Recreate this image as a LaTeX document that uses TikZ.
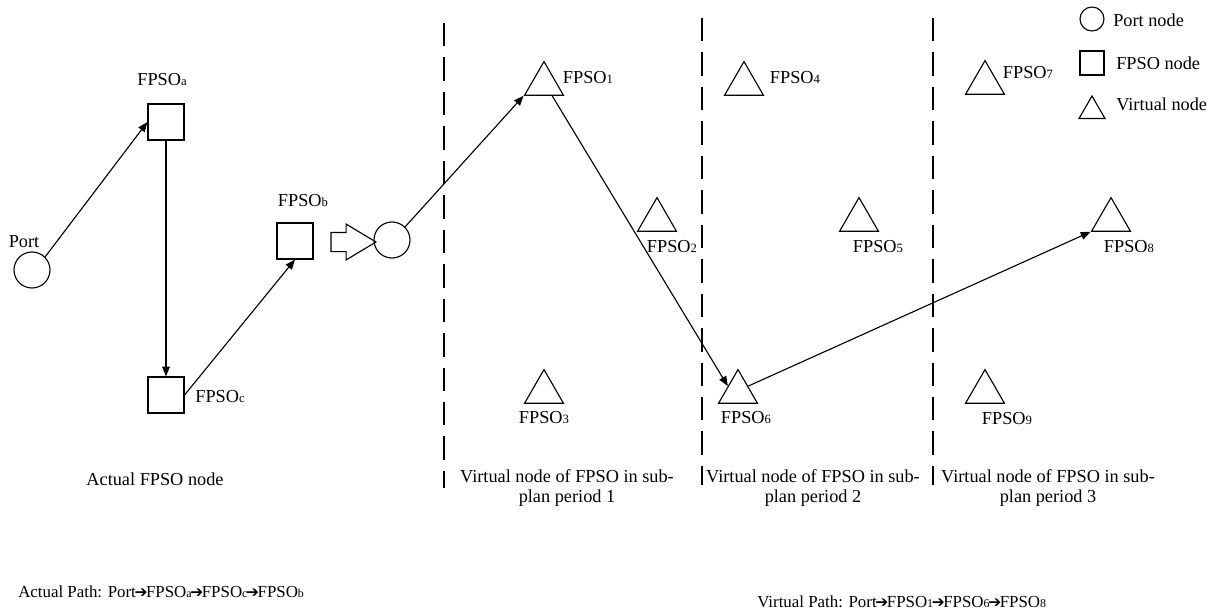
\documentclass[tikz,border=0pt]{standalone}
\usepackage{fontspec}
\setmainfont{Liberation Serif}
\newfontfamily\symfont{DejaVu Sans}
\usetikzlibrary{arrows.meta,positioning,shapes.geometric,shapes.arrows,calc}
\newcommand{\sbs}[1]{{\fontsize{9}{10}\selectfont #1}}
\newcommand{\psbs}[1]{{\fontsize{8.5}{10}\selectfont #1}}
\newcommand{\pto}{\kern-1pt{\symfont\fontsize{11}{12}\selectfont ➔}\kern-1pt}
\tikzset{
  pnode/.style={circle,draw,line width=0.8pt,minimum size=0.9cm,inner sep=0pt},
  fnode/.style={rectangle,draw,line width=0.8pt,minimum size=0.9cm,inner sep=0pt},
  vnode/.style={regular polygon,regular polygon sides=3,draw,line width=0.8pt,
                minimum size=1.12cm,inner sep=0pt},
  lbl/.style={font=\fontsize{13}{14.5}\selectfont,inner sep=0pt,align=center},
  plbl/.style={font=\fontsize{12}{14}\selectfont,inner sep=0pt,anchor=west},
  arr/.style={-{Triangle[length=7pt,width=5.5pt]},line width=0.8pt},
  divline/.style={line width=1.2pt,dash pattern=on 16.7pt off 7.8pt},
}
\begin{document}
\begin{tikzpicture}[x=0.025cm,y=-0.025cm]
  \useasboundingbox (0,0) rectangle (1219,612);

  % sub-plan period borders
  \coordinate (d1t) at (444,23);  \coordinate (d1b) at (444,488);
  \coordinate (d2t) at (702,18);  \coordinate (d2b) at (702,485);
  \coordinate (d3t) at (933,18);  \coordinate (d3b) at (933,485);
  \draw[divline] (d1t) -- (d1b);
  \draw[divline] (d2t) -- (d2b);
  \draw[divline] (d3t) -- (d3b);

  % actual network
  \node[pnode] (port) at (32,270) {};
  \node[fnode] (fa) at (166,122) {};
  \node[fnode] (fc) at (166,395) {};
  \node[fnode] (fb) at (295,241) {};
  \node[lbl] (lport) at (24,242) {Port};
  \node[lbl] (lfa) at (162,80) {FPSO\sbs{a}};
  \node[lbl] (lfb) at (303,201) {FPSO\sbs{b}};
  \node[lbl] (lfc) at (220,397) {FPSO\sbs{c}};

  \draw[arr] (port.45) -- (fa.west);
  \draw[arr] (fa.south) -- (fc.north);
  \draw[arr] (fc.east) -- (fb.south);

  \node[single arrow,draw,line width=0.8pt,inner xsep=0pt,inner ysep=0.225cm,
        minimum height=1.125cm,
        single arrow head extend=0.21cm,single arrow tip angle=62] (shift) at (345.5,242) {};

  % virtual network
  \node[pnode] (vport) at (392,240) {};
  \node[vnode] (t1) at (544,84) {};
  \node[vnode] (t2) at (657,220) {};
  \node[vnode] (t3) at (544,392) {};
  \node[vnode] (t4) at (744,84) {};
  \node[vnode] (t5) at (859,220) {};
  \node[vnode] (t6) at (738,392) {};
  \node[vnode] (t7) at (985,83) {};
  \node[vnode] (t8) at (1111,220) {};
  \node[vnode] (t9) at (985,392) {};

  \node[lbl] (l1) at (588,78) {FPSO\sbs{1}};
  \node[lbl] (l2) at (672,247) {FPSO\sbs{2}};
  \node[lbl] (l3) at (544,418) {FPSO\sbs{3}};
  \node[lbl] (l4) at (795,78) {FPSO\sbs{4}};
  \node[lbl] (l5) at (878,247) {FPSO\sbs{5}};
  \node[lbl] (l6) at (746,418) {FPSO\sbs{6}};
  \node[lbl] (l7) at (1028,73) {FPSO\sbs{7}};
  \node[lbl] (l8) at (1129,247) {FPSO\sbs{8}};
  \node[lbl] (l9) at (1007,419) {FPSO\sbs{9}};

  \draw[arr] (vport.45) -- (t1.corner 2);
  \draw[arr] ($(t1.corner 2)!0.7!(t1.corner 3)$) -- (t6.side 1);
  \draw[arr] (t6.side 3) -- (t8.corner 2);

  % legend
  \node[pnode,minimum size=0.6cm] (lgp) at (1092,19) {};
  \node[fnode,minimum size=0.6cm] (lgf) at (1092,63) {};
  \node[vnode,minimum size=0.75cm] (lgv) at (1092,111) {};
  \node[lbl,anchor=west] (lgpt) at (1113,20) {Port node};
  \node[lbl,anchor=west] (lgft) at (1116,63) {FPSO node};
  \node[lbl,anchor=west] (lgvt) at (1116,104) {Virtual node};

  % captions
  \node[lbl] (cap0) at (155,479) {Actual FPSO node};
  \node[lbl] (cap1) at (567,488) {Virtual node of FPSO in sub-\\plan period 1};
  \node[lbl] (cap2) at (813,488) {Virtual node of FPSO in sub-\\plan period 2};
  \node[lbl] (cap3) at (1048,488) {Virtual node of FPSO in sub-\\plan period 3};

  \node[plbl] (apath) at (18,592)
    {Actual Path: Port\pto FPSO\psbs{a}\pto FPSO\psbs{c}\pto FPSO\psbs{b}};
  \node[plbl] (vpath) at (757,602)
    {Virtual Path: Port\pto FPSO\psbs{1}\pto FPSO\psbs{6}\pto FPSO\psbs{8}};

\end{tikzpicture}
\end{document}
